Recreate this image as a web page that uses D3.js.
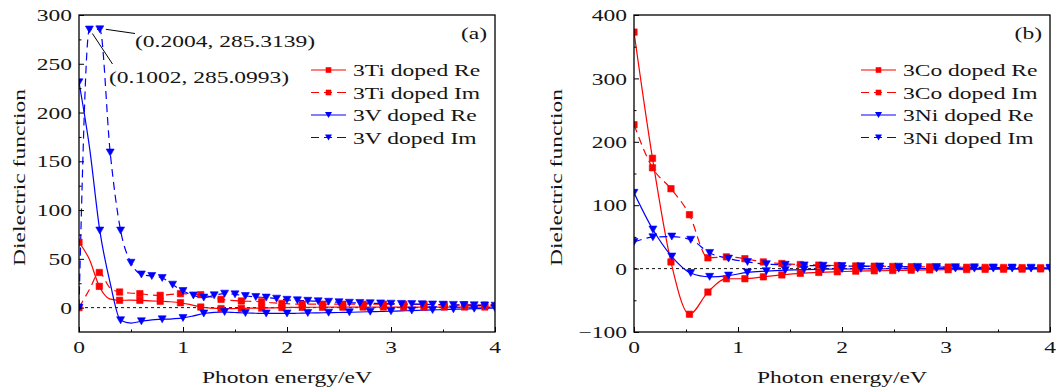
<!DOCTYPE html>
<html><head><meta charset="utf-8">
<script src="https://cdn.jsdelivr.net/npm/d3@7"></script>
<style>
html,body{margin:0;padding:0;background:#fff;}
svg text{font-family:"Liberation Serif","DejaVu Serif",serif;fill:#151515;}
</style></head>
<body>
<svg id="chart" width="1056" height="390"></svg>
<script>
// ---------- DATA ----------
// Panel (a): energy grids (eV)
const stepA_Ti = 4/41;   // 3Ti grid
const stepA_V  = 0.1;    // 3V grid
const ti_re = [67,50,21.8,9,7.5,7.6,7.5,7,6.5,6,5,3,0.6,-0.5,-1,-1,-0.8,-0.6,-0.5,-0.3,0,0.2,0.3,0.4,0.4,0.5,0.5,0.5,0.6,0.6,0.6,0.6,0.6,0.6,0.6,0.6,0.6,0.6,0.6,0.6,0.6,0.6];
const ti_im = [0,18,36,21,16,15,14.3,13,12.6,13.5,14.3,13.8,13.3,11,8.5,7.5,6.8,6.4,6,5,4.3,3.8,3.5,3.5,3.5,3.5,3.5,3.5,3.5,3.5,3.5,3.4,3.4,3.3,3.2,3.1,3,2.9,2.8,2.7,2.6,2.5];
const v_re = [231,165,79,25,-13,-15.8,-14,-12.5,-12,-11.5,-10.6,-8.5,-6,-4.8,-4.5,-5,-5.5,-5.8,-6,-6,-6,-5.8,-5.5,-5.3,-5.2,-5,-4.8,-4.5,-4.2,-4,-3.7,-3.4,-3,-2.7,-2.4,-2,-1.7,-1.4,-1.1,-0.8,-0.5];
const v_im = [0,285.0993,285.3139,159,79,46,34,32.4,30.4,23.5,17,12.5,10.3,12.6,14.3,13.6,11.9,10.9,10.3,9.2,8,7.5,7,6.5,6,5.5,5,4.8,4.5,4.3,4,3.8,3.6,3.4,3.2,3,2.8,2.6,2.4,2.2,2];

// Panel (b)
const stepB_Co = 0.1777;
const stepB_Ni = 4/22;
const co_re = [373,174,10.5,-72,-37,-16,-16,-13,-10,-7.5,-6,-5,-4,-3.5,-3,-2.5,-2,-1.8,-1.5,-1.2,-1,-0.8,-0.5,-0.4];
const co_im = [227,159,126,85,17,18.5,15.6,10.5,8,6.4,5.5,4.8,4.2,3.8,3.4,3,2.7,2.4,2.1,1.9,1.7,1.5,1.3,1.2];
const ni_re = [119.5,61.6,19,-7,-13,-11,-6,-4,-2.5,-1.5,-1,-0.6,-0.4,-0.3,-0.2,-0.1,0,0,0,0,0,0,0];
const ni_im = [42,49.5,50.5,45.5,24.7,15.8,10.5,7,6,5,4.5,4,3.6,3.3,3,2.7,2.4,2.2,2,1.8,1.6,1.4,1.2];

const xTicks = [0,1,2,3,4];
const xMinor = [0.5,1.5,2.5,3.5];
const yTicksA = [0,50,100,150,200,250,300];
const yMinorA = [25,75,125,175,225,275];
const yTicksB = [-100,0,100,200,300,400];
const yMinorB = [-50,50,150,250,350];
const legendA = ["3Ti doped Re","3Ti doped Im","3V doped Re","3V doped Im"];
const legendB = ["3Co doped Re","3Co doped Im","3Ni doped Re","3Ni doped Im"];
const xTitle = "Photon energy/eV";
const yTitle = "Dielectric function";
const annotations = [
  {x:0.2004, y:285.3139, label:"(0.2004, 285.3139)"},
  {x:0.1002, y:285.0993, label:"(0.1002, 285.0993)"}
];

// ---------- BUILD SERIES ----------
const RED = "#ff0000", BLUE = "#0000ff";
function gridX(n, step){ return d3.range(n).map(i => Math.min(i*step, 4)); }
function series(vals, step, color, dashed, marker, every, extraEnd){
  let xs = gridX(vals.length, step);
  if (extraEnd) xs[xs.length-1] = 4;
  return {pts: vals.map((v,i)=>({x:xs[i], y:v, i})), color, dashed, marker, every, last: vals.length-1, extraEnd};
}
const seriesA = [
  series(ti_re, stepA_Ti, RED, false, "sq", 2, false),
  series(ti_im, stepA_Ti, RED, true, "sq", 2, false),
  series(v_re, stepA_V, BLUE, false, "tri", 2, false),
  series(v_im, stepA_V, BLUE, true, "tri", 1, false)
];
const seriesB = [
  series(co_re, stepB_Co, RED, false, "sq", 1, true),
  series(co_im, stepB_Co, RED, true, "sq", 1, true),
  series(ni_re, stepB_Ni, BLUE, false, "tri", 1, false),
  series(ni_im, stepB_Ni, BLUE, true, "tri", 1, false)
];

// ---------- DRAW ----------
const svg = d3.select("#chart");
const FS = 17.5;

// horizontal stretch so text widths match the original typesetting
const probe = svg.append("text").attr("font-size",FS).text(xTitle);
const K = 170 / probe.node().getComputedTextLength();
probe.remove();

function T(parent, x, y, str, anchor, rotate){
  const g = parent.append("g").attr("transform",`translate(${x},${y}) rotate(${rotate||0}) scale(${K},1)`);
  g.append("text").attr("text-anchor",anchor||"start").attr("dy","0.35em").attr("font-size",FS).text(str);
  return g;
}

const fmt = d3.format("d");

function panel(cfg){
  const {left,right,top,bottom,ydom,yT,yM,ser,legend,tag,id} = cfg;
  const x = d3.scaleLinear().domain([0,4]).range([left,right]);
  const y = d3.scaleLinear().domain(ydom).range([bottom,top]);
  const g = svg.append("g");
  g.append("clipPath").attr("id","clip"+id).append("rect")
    .attr("x",left).attr("y",top).attr("width",right-left).attr("height",bottom-top);

  // zero line
  g.append("line").attr("x1",left).attr("x2",right).attr("y1",y(0)).attr("y2",y(0))
    .attr("stroke","#111").attr("stroke-width",1).attr("stroke-dasharray","3,3");

  const line = d3.line().x(d=>x(d.x)).y(d=>y(d.y)).curve(d3.curveMonotoneX);
  const plot = g.append("g").attr("clip-path",`url(#clip${id})`);
  ser.forEach(s=>{
    plot.append("path").datum(s.pts).attr("d",line)
      .attr("fill","none").attr("stroke",s.color).attr("stroke-width",1.2)
      .attr("stroke-dasharray", s.dashed ? "8,5" : null);
  });
  ser.forEach(s=>{
    const mk = s.pts.filter(d => d.i % s.every === 0 && !(s.extraEnd && d.i===s.last));
    drawMarkers(plot, mk, s, x, y);
  });

  // frame
  g.append("rect").attr("x",left).attr("y",top).attr("width",right-left).attr("height",bottom-top)
    .attr("fill","none").attr("stroke","#000").attr("stroke-width",1.3);

  // axes (inward ticks; labels drawn separately)
  const xg = g.append("g").attr("transform",`translate(0,${bottom})`)
    .call(d3.axisBottom(x).tickValues(xTicks).tickSize(-5).tickFormat(""));
  const xm = g.append("g").attr("transform",`translate(0,${bottom})`)
    .call(d3.axisBottom(x).tickValues(xMinor).tickSize(-2.5).tickFormat(""));
  const yg = g.append("g").attr("transform",`translate(${left},0)`)
    .call(d3.axisLeft(y).tickValues(yT).tickSize(-5).tickFormat(""));
  const ym = g.append("g").attr("transform",`translate(${left},0)`)
    .call(d3.axisLeft(y).tickValues(yM).tickSize(-2.5).tickFormat(""));
  [xg,xm,yg,ym].forEach(a=>{
    a.select(".domain").remove();
    a.selectAll("line").attr("stroke","#000").attr("stroke-width",1);
  });
  xTicks.forEach(t=> T(g, x(t), bottom+15, fmt(t), "middle"));
  yT.forEach(t=> T(g, left-7, y(t), fmt(t), "end"));

  // titles
  T(g, (left+right)/2, 376.5, xTitle, "middle");
  T(g, cfg.ytx, (top+bottom)/2+4, yTitle, "middle", -90);

  // tag
  T(g, right-8, 33, tag, "end");

  // legend
  const lx = cfg.legX, rows=[70,92.5,115,137.5];
  legend.forEach((name,k)=>{
    const s = ser[k];
    const lg = g.append("g");
    lg.append("line").attr("x1",lx).attr("x2",lx+35).attr("y1",rows[k]).attr("y2",rows[k])
      .attr("stroke",s.color).attr("stroke-width",1.2)
      .attr("stroke-dasharray", s.dashed ? "8,5,8,5,9" : null);
    drawMarkersAbs(lg, lx+17.5, rows[k], s);
    T(lg, lx+42, rows[k], name, "start");
  });
  return {x,y,g};
}

function markerPath(type){
  if (type==="tri") return "M-4,-3.5L4,-3.5L0,3.5Z";
  return "M-3.2,-3.2L3.2,-3.2L3.2,3.2L-3.2,3.2Z";
}
function drawMarkers(g, pts, s, x, y){
  g.selectAll(null).data(pts).enter().append("path")
    .attr("d", markerPath(s.marker))
    .attr("transform", d=>`translate(${x(d.x)},${y(d.y)})`)
    .attr("fill", s.color).attr("stroke", s.color).attr("stroke-width",0.6);
}
function drawMarkersAbs(g, cx, cy, s){
  g.append("path").attr("d", s.marker==="tri" ? "M-3.5,-3L3.5,-3L0,3Z" : "M-2.8,-2.8L2.8,-2.8L2.8,2.8L-2.8,2.8Z")
    .attr("transform",`translate(${cx},${cy})`).attr("fill",s.color);
}

const A = panel({left:79,right:495,top:15,bottom:332,ydom:[-25,300],yT:yTicksA,yM:yMinorA,
  ser:seriesA,legend:legendA,tag:"(a)",id:"a",ytx:19,legX:311});
const B = panel({left:634,right:1050,top:15,bottom:332,ydom:[-100,400],yT:yTicksB,yM:yMinorB,
  ser:seriesB,legend:legendB,tag:"(b)",id:"b",ytx:556,legX:861});

// annotations (panel a)
const labelPos = [{tx:135, ty:41, lx:135, ly:33.5, ox:6, oy:0},{tx:109, ty:76.5, lx:112.5, ly:64, ox:3, oy:4}];
annotations.forEach((a,k)=>{
  const p = labelPos[k];
  A.g.append("line").attr("x1",A.x(a.x)+p.ox).attr("y1",A.y(a.y)+p.oy).attr("x2",p.lx).attr("y2",p.ly)
    .attr("stroke","#000").attr("stroke-width",1);
  T(A.g, p.tx, p.ty, a.label, "start");
});
</script>
</body></html>
